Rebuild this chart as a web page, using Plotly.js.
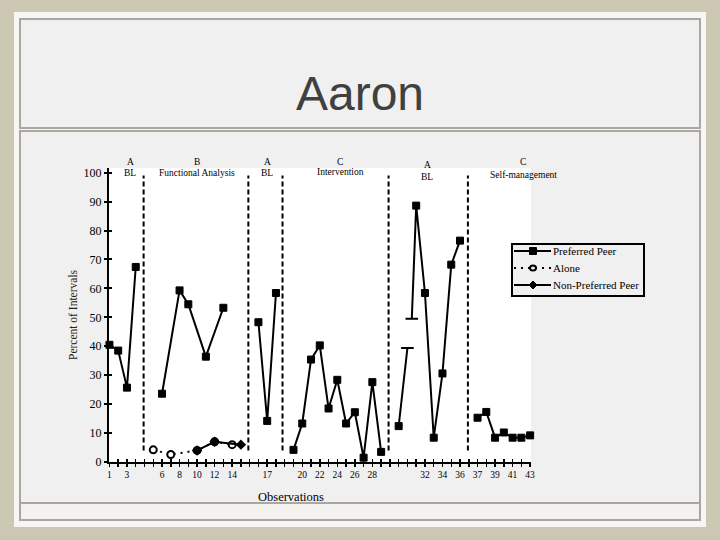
<!DOCTYPE html>
<html>
<head>
<meta charset="utf-8">
<script src="https://cdn.plot.ly/plotly-3.0.1.min.js"></script>
<style>
  html, body { margin:0; padding:0; }
  body { width:720px; height:540px; background:#ccc7b3; position:relative; overflow:hidden; }
  .panel { position:absolute; left:14px; top:12px; width:692px; height:515px; background:#f8f6f2; }
  .box { position:absolute; box-sizing:border-box; border:2px solid #aaa6a1; background:#f0f0f0; }
  #plot { position:absolute; left:0; top:0; width:720px; height:540px; }
</style>
</head>
<body>
<div class="panel"></div>
<div class="box" style="left:19px; top:18px; width:682px; height:111px;"></div>
<div class="box" style="left:19px; top:130px; width:682px; height:374px;"></div>
<div class="box" style="left:19px; top:502px; width:682px; height:19px; background:#f4f2ef;"></div>
<div id="plot"></div>
<script>
// ---- data ----
const prefX = [0,1,2,3,null,6,8,9,11,13,null,17,18,19,null,21,22,23,24,25,26,27,28,29,30,31,null,33,34,null,34.5,35,36,37,38,39,40,null,42,43,44,45,46,47,48];
const prefY = [40.5,38.5,25.7,67.4,null,23.6,59.3,54.5,36.4,53.3,null,48.3,14.2,58.4,null,4.2,13.3,35.4,40.3,18.5,28.4,13.3,17.2,1.5,27.6,3.5,null,12.4,39.4,null,49.5,88.6,58.4,8.4,30.6,68.2,76.5,null,15.3,17.3,8.4,10.2,8.4,8.4,9.2];
const prefCapX = [34, 34.5];   // observations drawn with a cap instead of a square
const prefCapY = [39.4, 49.5];

const aloneX = [5,7,10,12,14];
const aloneY = [4.2,2.6,4.0,7.0,6.0];

const nonPrefX = [10,12,15];
const nonPrefY = [4.0,7.0,6.0];

const seriesNames = ['Preferred Peer','Alone','Non-Preferred Peer'];

const phaseLines = [3.9, 15.85, 19.75, 31.85, 40.9];
const phaseLetters = ['A','B','A','C','A','C'];
const phaseNames = ['BL','Functional Analysis','BL','Intervention','BL','Self-management'];

const xTickVals = [0,2,6,8,10,12,14,18,22,24,26,28,30,36,38,40,42,44,46,48];
const xTickText = ['1','3','6','8','10','12','14','17','20','22','24','26','28','32','34','36','37','39','41','43'];

// ---- layout constants ----
const M = {l: 109, r: 189, t: 168, b: 78};
const PW = 720 - M.l - M.r, PH = 540 - M.t - M.b;
const px2x = px => (px - M.l) / PW;
const py2y = py => (540 - M.b - py) / PH;
const phaseLabelPx = [130, 197, 267, 340, 427, 523];
const phaseLetterPy = [162, 162, 162, 162, 165, 162];
const phaseNamePy = [173, 173, 173, 172, 177, 175];
const serif = 'Liberation Serif, Times New Roman, serif';

const prefSizes = prefX.map(x => prefCapX.includes(x) ? 0 : 7);

const traces = [
  {
    name: seriesNames[0], x: prefX, y: prefY, mode: 'lines+markers', type: 'scatter',
    line: {color: '#000', width: 2}, connectgaps: false,
    marker: {symbol: 'square', size: prefSizes, color: '#000', opacity: 1, line: {color: '#000', width: 1}},
    cliponaxis: false, showlegend: false
  },
  {
    name: 'cap', x: prefCapX, y: prefCapY, mode: 'markers', type: 'scatter',
    marker: {symbol: 'line-ew', size: 9, color: '#000', line: {color: '#000', width: 2}},
    cliponaxis: false, showlegend: false
  },
  {
    name: seriesNames[1], x: aloneX, y: aloneY, mode: 'lines+markers', type: 'scatter',
    line: {color: '#000', width: 2, dash: '2px,5px'},
    marker: {symbol: 'circle', size: 7, color: '#fff', line: {color: '#000', width: 2}},
    cliponaxis: false, showlegend: false
  },
  {
    name: seriesNames[2], x: nonPrefX, y: nonPrefY, mode: 'lines+markers', type: 'scatter',
    line: {color: '#000', width: 2},
    marker: {symbol: 'diamond', size: 8, color: '#000'},
    cliponaxis: false, showlegend: false
  },
  { x: [null], y: [null], xaxis: 'x2', yaxis: 'y2', showlegend: false, hoverinfo: 'skip', type: 'scatter' }
];

const shapes = phaseLines.map(p => ({
  type: 'line', xref: 'x', yref: 'y', x0: p, x1: p, y0: 4, y1: 99,
  line: {color: '#000', width: 2, dash: '5px,3px'}, layer: 'above'
}));

const annotations = [];
phaseLetters.forEach((L, i) => {
  annotations.push({xref: 'paper', yref: 'paper', x: px2x(phaseLabelPx[i]), y: py2y(phaseLetterPy[i]), text: L, showarrow: false,
    font: {family: serif, size: 9.5, color: '#000'}, xanchor: 'center', yanchor: 'middle'});
  annotations.push({xref: 'paper', yref: 'paper', x: px2x(phaseLabelPx[i]), y: py2y(phaseNamePy[i]), text: phaseNames[i], showarrow: false,
    font: {family: serif, size: 9.5, color: '#000'}, xanchor: 'center', yanchor: 'middle'});
});
annotations.push({xref: 'paper', yref: 'paper', x: px2x(73), y: py2y(315), text: 'Percent of Intervals', textangle: -90,
  showarrow: false, font: {family: serif, size: 11.5, color: '#222'}, xanchor: 'center', yanchor: 'middle'});
annotations.push({xref: 'paper', yref: 'paper', x: px2x(290.5), y: py2y(497), text: 'Observations',
  showarrow: false, font: {family: serif, size: 12.5, color: '#000'}, xanchor: 'center', yanchor: 'middle'});

// ---- legend (box, samples, labels) ----
const LG = {x0: 512, x1: 644, y0: 244, y1: 296, lineX0: 514, lineX1: 551, symX: 533, textX: 551, rows: [251, 268, 285]};
shapes.push({type: 'rect', xref: 'paper', yref: 'paper', x0: px2x(LG.x0), x1: px2x(LG.x1), y0: py2y(LG.y0), y1: py2y(LG.y1),
  line: {color: '#000', width: 2}, fillcolor: '#f0f0f0', layer: 'above'});
const legendDash = ['solid', '2px,5px', 'solid'];
LG.rows.forEach((ry, i) => {
  shapes.push({type: 'line', xref: 'paper', yref: 'paper', x0: px2x(LG.lineX0), x1: px2x(LG.lineX1), y0: py2y(ry), y1: py2y(ry),
    line: {color: '#000', width: 2, dash: legendDash[i]}, layer: 'above'});
  annotations.push({xref: 'paper', yref: 'paper', x: px2x(LG.textX), y: py2y(ry), text: seriesNames[i], showarrow: false,
    font: {family: serif, size: 11, color: '#000'}, xanchor: 'left', yanchor: 'middle'});
});
// legend symbols
shapes.push({type: 'rect', xref: 'paper', yref: 'paper', x0: px2x(LG.symX - 3.5), x1: px2x(LG.symX + 3.5),
  y0: py2y(LG.rows[0] - 3.5), y1: py2y(LG.rows[0] + 3.5), line: {color: '#000', width: 1}, fillcolor: '#000', layer: 'above'});
shapes.push({type: 'circle', xref: 'paper', yref: 'paper', x0: px2x(LG.symX - 3), x1: px2x(LG.symX + 3),
  y0: py2y(LG.rows[1] - 2.5), y1: py2y(LG.rows[1] + 2.5), line: {color: '#000', width: 2}, fillcolor: '#f0f0f0', layer: 'above'});
shapes.push({type: 'path', xref: 'paper', yref: 'paper',
  path: 'M ' + px2x(LG.symX - 4) + ' ' + py2y(LG.rows[2]) + ' L ' + px2x(LG.symX) + ' ' + py2y(LG.rows[2] - 4) +
        ' L ' + px2x(LG.symX + 4) + ' ' + py2y(LG.rows[2]) + ' L ' + px2x(LG.symX) + ' ' + py2y(LG.rows[2] + 4) + ' Z',
  line: {color: '#000', width: 1}, fillcolor: '#000', layer: 'above'});

const xRange = [-0.05, 48.1];
const yRange = [0, 101.6];

const layout = {
  width: 720, height: 540,
  paper_bgcolor: 'rgba(0,0,0,0)', plot_bgcolor: '#ffffff',
  margin: {l: M.l, r: M.r, t: M.t, b: M.b, pad: 0},
  title: {text: 'Aaron', font: {family: 'Liberation Sans, Arial, sans-serif', size: 48, color: '#404040'},
    x: 0.5, xanchor: 'center', y: 0.828, yanchor: 'middle'},
  showlegend: false,
  xaxis: {
    range: xRange, showgrid: false, zeroline: false, showline: true, linecolor: '#000', linewidth: 2,
    tickmode: 'array', tickvals: xTickVals, ticktext: xTickText,
    ticks: 'outside', ticklen: 3, tickwidth: 1.5, tickcolor: '#000',
    minor: {dtick: 1, tick0: 0, ticks: 'outside', ticklen: 3, tickwidth: 1.5, tickcolor: '#000', showgrid: false},
    tickfont: {family: serif, size: 9.5, color: '#000'}, fixedrange: true
  },
  yaxis: {
    range: yRange, showgrid: false, zeroline: false, showline: true, linecolor: '#000', linewidth: 2,
    tickmode: 'linear', tick0: 0, dtick: 10,
    ticks: 'outside', ticklen: 3, tickwidth: 2, tickcolor: '#000',
    tickfont: {family: serif, size: 12, color: '#000'}, fixedrange: true
  },
  xaxis2: {
    range: xRange, overlaying: 'x', anchor: 'y2', side: 'bottom', showgrid: false, zeroline: false, showline: false,
    tickmode: 'linear', tick0: 0, dtick: 1, ticks: 'inside', ticklen: 3, tickwidth: 1.5, tickcolor: '#000',
    showticklabels: false, fixedrange: true
  },
  yaxis2: {
    range: yRange, overlaying: 'y', anchor: 'x2', side: 'left', showgrid: false, zeroline: false, showline: false,
    tickmode: 'linear', tick0: 0, dtick: 10, ticks: 'inside', ticklen: 3, tickwidth: 2, tickcolor: '#000',
    showticklabels: false, fixedrange: true
  },
  shapes: shapes,
  annotations: annotations
};

Plotly.newPlot('plot', traces, layout, {displayModeBar: false, staticPlot: true});
</script>
</body>
</html>
